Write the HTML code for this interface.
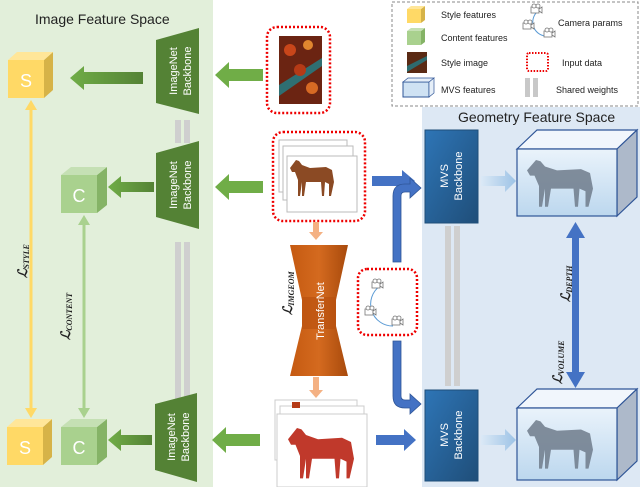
<!DOCTYPE html>
<html><head><meta charset="utf-8"><style>
html,body{margin:0;padding:0;background:#fff;}
svg{display:block;font-family:"Liberation Sans",sans-serif;}
</style></head><body>
<svg width="640" height="487" viewBox="0 0 640 487" xmlns="http://www.w3.org/2000/svg">
<defs>
<linearGradient id="garr" x1="0" x2="1"><stop offset="0" stop-color="#70ad47"/><stop offset="1" stop-color="#548235"/></linearGradient>
<linearGradient id="mvs" x1="0" y1="0" x2="1" y2="1"><stop offset="0" stop-color="#2e75b6"/><stop offset="1" stop-color="#1f4e79"/></linearGradient>
<linearGradient id="vol" x1="0" y1="0" x2="0" y2="1"><stop offset="0" stop-color="#eaf3fb"/><stop offset="1" stop-color="#bcd7ee"/></linearGradient>
<linearGradient id="lt" x1="0" x2="1"><stop offset="0" stop-color="#dbe9f6"/><stop offset="1" stop-color="#9dc3e6"/></linearGradient>
<linearGradient id="org" x1="0" x2="1"><stop offset="0" stop-color="#c55a11"/><stop offset="0.5" stop-color="#d46a1f"/><stop offset="1" stop-color="#a84a0c"/></linearGradient>
<g id="horse"><path d="M0 8 L6 0 L9 1 L12 5 L20 8 L36 7 L42 10 L44 22 L41 36 L39 36 L39 24 L35 22 L34 36 L32 36 L31 22 L16 22 L14 36 L12 36 L12 22 L10 36 L8 36 L8 20 L5 12 L2 12 Z"/></g>
<g id="cam"><rect x="0" y="0" width="8" height="6" fill="#fff" stroke="#777" stroke-width="0.8"/><circle cx="3" cy="-1" r="2" fill="#fff" stroke="#777" stroke-width="0.8"/><circle cx="7" cy="-1" r="2" fill="#fff" stroke="#777" stroke-width="0.8"/><path d="M8 2 L11 0 L11 6 L8 4Z" fill="#fff" stroke="#777" stroke-width="0.8"/></g>
</defs>

<rect x="0" y="0" width="213" height="487" fill="#e2efda"/>
<rect x="422" y="107" width="218" height="380" fill="#dde8f4"/>
<text x="35" y="24" font-size="14" fill="#222">Image Feature Space</text>
<text x="458" y="122" font-size="14" fill="#222">Geometry Feature Space</text>

<rect x="392" y="2" width="246" height="104" fill="#fff" stroke="#888" stroke-dasharray="3,2"/>
<g font-size="9" fill="#222">
<rect x="407" y="9" width="14" height="14" fill="#ffd966"/><path d="M421 9 l4 -3 v14 l-4 3z" fill="#d6b348"/><path d="M407 9 l4 -3 h14 l-4 3z" fill="#ffe699"/>
<text x="441" y="18">Style features</text>
<rect x="407" y="31" width="14" height="14" fill="#a9d18e"/><path d="M421 31 l4 -3 v14 l-4 3z" fill="#85b366"/><path d="M407 31 l4 -3 h14 l-4 3z" fill="#c5e0b4"/>
<text x="441" y="41">Content features</text>
<rect x="407" y="52" width="20" height="21" fill="#5a2a14"/><path d="M407 66 L427 56 L427 60 L407 72Z" fill="#2e6b6e"/>
<text x="441" y="66">Style image</text>
<rect x="403" y="82" width="26" height="15" fill="#cfe2f3" stroke="#2f5597"/><path d="M403 82 l5 -4 h26 l-5 4z M429 82 l5 -4 v15 l-5 4z" fill="#e6eff8" stroke="#2f5597" stroke-width="0.7"/>
<text x="441" y="93">MVS features</text>
<path d="M537 12 A14 14 0 0 0 548 36" fill="none" stroke="#5b9bd5"/>
<use href="#cam" x="531" y="7"/><use href="#cam" x="523" y="23"/><use href="#cam" x="544" y="31"/>
<text x="558" y="26">Camera params</text>
<rect x="527" y="53" width="21" height="18" rx="2" fill="none" stroke="#e00" stroke-width="2" stroke-dasharray="1.5,1.5"/>
<text x="562" y="66">Input data</text>
<rect x="525" y="78" width="5" height="19" fill="#c8c8c8"/><rect x="533" y="78" width="5" height="19" fill="#c8c8c8"/>
<text x="556" y="93">Shared weights</text>
</g>

<rect x="8" y="60" width="36" height="38" fill="#ffd966"/><path d="M44 60 l9 -8 v38 l-9 8z" fill="#d6b348"/><path d="M8 60 l9 -8 h36 l-9 8z" fill="#ffe699"/>
<text x="26" y="87" font-size="18" fill="#fff" text-anchor="middle">S</text>
<rect x="61" y="175" width="36" height="38" fill="#a9d18e"/><path d="M97 175 l10 -8 v38 l-10 8z" fill="#85b366"/><path d="M61 175 l10 -8 h36 l-10 8z" fill="#c5e0b4"/>
<text x="79" y="202" font-size="18" fill="#fff" text-anchor="middle">C</text>
<rect x="7" y="427" width="36" height="38" fill="#ffd966"/><path d="M43 427 l9 -8 v38 l-9 8z" fill="#d6b348"/><path d="M7 427 l9 -8 h36 l-9 8z" fill="#ffe699"/>
<text x="25" y="454" font-size="18" fill="#fff" text-anchor="middle">S</text>
<rect x="61" y="427" width="36" height="38" fill="#a9d18e"/><path d="M97 427 l10 -8 v38 l-10 8z" fill="#85b366"/><path d="M61 427 l10 -8 h36 l-10 8z" fill="#c5e0b4"/>
<text x="79" y="454" font-size="18" fill="#fff" text-anchor="middle">C</text>

<line x1="31" y1="108" x2="31" y2="410" stroke="#ffd966" stroke-width="3"/>
<path d="M25 110 L31 100 L37 110Z M25 408 L31 418 L37 408Z" fill="#ffd966"/>
<line x1="84" y1="224" x2="84" y2="410" stroke="#a9d18e" stroke-width="3"/>
<path d="M78 225 L84 215 L90 225Z M78 408 L84 418 L90 408Z" fill="#a9d18e"/>
<g font-family="Liberation Serif,serif" font-style="italic" font-weight="bold" fill="#222">
<text transform="translate(27,278) rotate(-90)" font-size="13">ℒ<tspan font-size="8" dy="2">STYLE</tspan></text>
<text transform="translate(70,340) rotate(-90)" font-size="13">ℒ<tspan font-size="8" dy="2">CONTENT</tspan></text>
<text transform="translate(292,315) rotate(-90)" font-size="13">ℒ<tspan font-size="8" dy="2">IMGEOM</tspan></text>
<text transform="translate(570,302) rotate(-90)" font-size="13">ℒ<tspan font-size="8" dy="2">DEPTH</tspan></text>
<text transform="translate(562,384) rotate(-90)" font-size="13">ℒ<tspan font-size="8" dy="2">VOLUME</tspan></text>
</g>

<rect x="175" y="120" width="6" height="23" fill="#cfcfcf"/><rect x="184" y="120" width="6" height="23" fill="#cfcfcf"/>
<rect x="175" y="242" width="6" height="166" fill="#cfcfcf"/><rect x="184" y="242" width="6" height="166" fill="#cfcfcf"/>
<rect x="445" y="226" width="6" height="160" fill="#cfcfcf"/><rect x="454" y="226" width="6" height="160" fill="#cfcfcf"/>

<g fill="#548235">
<path d="M156 40 L199 28 L199 114 L156 103Z"/>
<path d="M156 153 L199 141 L199 229 L156 217Z"/>
<path d="M155 404 L197 393 L197 482 L155 470Z"/>
</g>
<g font-size="11" fill="#fff" text-anchor="middle">
<text transform="translate(180,71) rotate(-90)"><tspan x="0" y="-3">ImageNet</tspan><tspan x="0" y="11">Backbone</tspan></text>
<text transform="translate(180,185) rotate(-90)"><tspan x="0" y="-3">ImageNet</tspan><tspan x="0" y="11">Backbone</tspan></text>
<text transform="translate(178,437) rotate(-90)"><tspan x="0" y="-3">ImageNet</tspan><tspan x="0" y="11">Backbone</tspan></text>
</g>

<g fill="url(#garr)">
<path d="M70 78 L84 66 L84 72 L143 72 L143 84 L84 84 L84 90Z"/>
<path d="M108 187 L121 176 L121 182 L154 182 L154 192 L121 192 L121 198Z"/>
<path d="M108 440 L121 429 L121 435 L152 435 L152 445 L121 445 L121 451Z"/>
</g>
<g fill="#70ad47">
<path d="M215 75 L229 62 L229 69 L263 69 L263 81 L229 81 L229 88Z"/>
<path d="M215 187 L229 174 L229 181 L263 181 L263 193 L229 193 L229 200Z"/>
<path d="M212 440 L226 427 L226 434 L260 434 L260 446 L226 446 L226 453Z"/>
</g>

<rect x="267" y="27" width="63" height="86" rx="10" fill="#fff" stroke="#e00" stroke-width="2.5" stroke-dasharray="2,2"/>
<rect x="279" y="36" width="43" height="68" fill="#6b2412"/>
<path d="M279 85 L322 58 L322 66 L279 96Z" fill="#2f6f72"/>
<circle cx="290" cy="50" r="6" fill="#c9461a"/><circle cx="308" cy="45" r="5" fill="#e0862f"/><circle cx="300" cy="70" r="6" fill="#b53a16"/><circle cx="312" cy="88" r="6" fill="#d76a24"/>

<rect x="273" y="132" width="92" height="89" rx="10" fill="#fff" stroke="#e00" stroke-width="2.5" stroke-dasharray="2,2"/>
<rect x="279" y="140" width="68" height="52" fill="#fff" stroke="#bbb"/>
<rect x="283" y="146" width="70" height="54" fill="#fff" stroke="#bbb"/>
<rect x="287" y="156" width="70" height="56" fill="#fff" stroke="#bbb"/>
<use href="#horse" x="290" y="160" fill="#8b4a24"/>

<path d="M372 176 L402 176 L402 170 L415 181 L402 192 L402 186 L372 186Z" fill="#4472c4"/>
<path d="M481 176 L505 176 L505 170 L516 181 L505 192 L505 186 L481 186Z" fill="url(#lt)"/>

<rect x="425" y="130" width="53" height="93" fill="url(#mvs)" stroke="#1f4e79"/>
<rect x="425" y="390" width="53" height="91" fill="url(#mvs)" stroke="#1f4e79"/>
<g font-size="11" fill="#fff" text-anchor="middle">
<text transform="translate(451,176) rotate(-90)"><tspan x="0" y="-3">MVS</tspan><tspan x="0" y="11">Backbone</tspan></text>
<text transform="translate(451,435) rotate(-90)"><tspan x="0" y="-3">MVS</tspan><tspan x="0" y="11">Backbone</tspan></text>
</g>

<g stroke="#2f5597" stroke-width="1.2">
<path d="M517 149 L537 130 L637 130 L617 149Z" fill="#f1f6fc"/>
<path d="M617 149 L637 130 L637 197 L617 216Z" fill="#adb9ca"/>
<rect x="517" y="149" width="100" height="67" fill="url(#vol)"/>
<path d="M517 408 L537 389 L637 389 L617 408Z" fill="#f1f6fc"/>
<path d="M617 408 L637 389 L637 461 L617 480Z" fill="#adb9ca"/>
<rect x="517" y="408" width="100" height="72" fill="url(#vol)"/>
</g>
<use href="#horse" transform="translate(527,160) scale(1.5,1.3)" fill="#6e7b8b" opacity="0.85"/>
<use href="#horse" transform="translate(527,420) scale(1.5,1.35)" fill="#6e7b8b" opacity="0.85"/>

<rect x="572" y="236" width="7" height="138" fill="#4472c4"/>
<path d="M566 238 L575.5 222 L585 238Z M566 372 L575.5 388 L585 372Z" fill="#4472c4"/>

<path d="M313 222 L319 222 L319 232 L323 232 L316 240 L309 232 L313 232Z" fill="#f4b183"/>
<path d="M313 377 L319 377 L319 390 L323 390 L316 398 L309 390 L313 390Z" fill="#f4b183"/>
<path d="M290 245 L348 245 L336 300 L336 326 L348 376 L290 376 L302 326 L302 300Z" fill="url(#org)"/>
<rect x="302" y="297" width="34" height="32" fill="#b84f0e" opacity="0.6"/>
<text transform="translate(324,311) rotate(-90)" font-size="11" fill="#fff" text-anchor="middle">TransferNet</text>

<rect x="358" y="269" width="59" height="66" rx="9" fill="#fff" stroke="#e00" stroke-width="2.5" stroke-dasharray="2,2"/>
<path d="M380 286 A22 22 0 0 0 393 326" fill="none" stroke="#5b9bd5"/>
<use href="#cam" x="372" y="282"/><use href="#cam" x="365" y="309"/><use href="#cam" x="392" y="319"/>

<path d="M393 262 L393 196 Q393 184 405 184 L410 184 L410 178 L421 188 L410 198 L410 192 L405 192 Q401 192 401 196 L401 262Z" fill="#4472c4" stroke="#2f5597" stroke-width="0.8"/>
<path d="M393 341 L393 396 Q393 408 405 408 L410 408 L410 414 L421 404 L410 394 L410 400 L405 400 Q401 400 401 396 L401 341Z" fill="#4472c4" stroke="#2f5597" stroke-width="0.8"/>

<rect x="275" y="400" width="82" height="60" fill="#fff" stroke="#ccc"/>
<rect x="280" y="406" width="84" height="64" fill="#fff" stroke="#ccc"/>
<rect x="277" y="414" width="90" height="73" fill="#fff" stroke="#ccc"/>
<path d="M292 402 l8 0 l0 6 l-8 0z" fill="#b53a16"/>
<use href="#horse" transform="translate(288,428) scale(1.5,1.4)" fill="#c0392b"/>

<path d="M376 435 L404 435 L404 429 L416 440 L404 451 L404 445 L376 445Z" fill="#4472c4"/>
<path d="M481 435 L505 435 L505 429 L516 440 L505 451 L505 445 L481 445Z" fill="url(#lt)"/>
</svg>
</body></html>
